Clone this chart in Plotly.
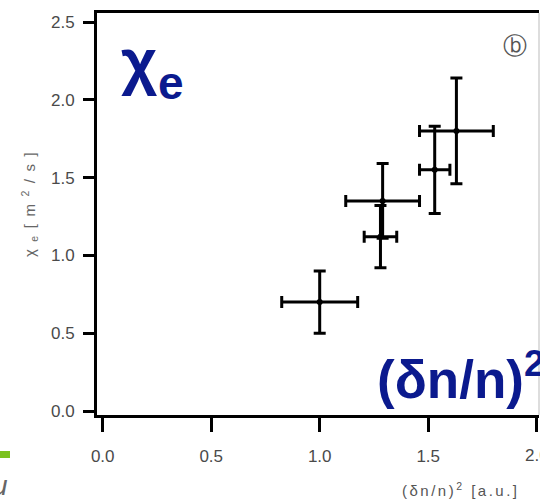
import plotly.graph_objects as go

# data
x_vals = [1.00, 1.29, 1.28, 1.53, 1.63]
y_vals = [0.70, 1.35, 1.12, 1.55, 1.80]
x_err = [0.175, 0.17, 0.075, 0.07, 0.17]
y_err = [0.20, 0.24, 0.20, 0.28, 0.34]

x_ticks = [0.0, 0.5, 1.0, 1.5, 2.0]
x_ticktext = ["0.0", "0.5", "1.0", "1.5", ""]
y_ticks = [0.0, 0.5, 1.0, 1.5, 2.0, 2.5]
y_ticktext = ["0.0", "0.5", "1.0", "1.5", "2.0", "2.5"]

W, H = 540, 499
ML, MR, MT, MB = 97, 1, 13, 84
PW, PH = W - ML - MR, H - MT - MB

def px(xp):
    return (xp - ML) / PW

def py(yp):
    return (H - MB - yp) / PH

fig = go.Figure()
fig.add_trace(go.Scatter(
    x=x_vals, y=y_vals, mode="markers",
    marker=dict(color="black", size=6),
    error_x=dict(type="data", array=x_err, color="black", thickness=3, width=6),
    error_y=dict(type="data", array=y_err, color="black", thickness=3, width=6),
    showlegend=False,
))

FONT = "Liberation Sans, Arial, sans-serif"
tick_font = dict(family=FONT, size=17, color="#4a4a4a")
navy = "#0B1A8E"
EN = "\u2002"
SIX = "\u2006"

ytitle = EN.join(["χ", "<sub>e</sub>", "[", "m", "<sup>2</sup>", "/", "s", "]"])
xtitle = SIX.join(["(", "δ", "n", "/", "n", ")", "<sup>2</sup>", " ", "[", "a", ".", "u", ".", "]"])

fig.update_layout(
    width=W, height=H,
    margin=dict(l=ML, r=MR, t=MT, b=MB, pad=0),
    paper_bgcolor="white", plot_bgcolor="white",
    xaxis=dict(range=[-0.0263, 2.0106], tickvals=x_ticks, ticktext=x_ticktext,
               showgrid=False, zeroline=False, showline=True, linecolor="black", linewidth=3,
               mirror=True, ticks="outside", ticklen=14, tickwidth=3, tickcolor="black",
               tickfont=tick_font, ticklabelstandoff=10),
    yaxis=dict(range=[-0.0257, 2.558], tickvals=y_ticks, ticktext=y_ticktext,
               showgrid=False, zeroline=False, showline=True, linecolor="black", linewidth=3,
               ticks="outside", ticklen=11, tickwidth=3, tickcolor="black",
               tickfont=tick_font, ticklabelstandoff=5),
    shapes=[
        dict(type="line", xref="paper", yref="paper", x0=1, x1=1, y0=0, y1=1,
             line=dict(color="#bbbbbb", width=1)),
        dict(type="rect", xref="paper", yref="paper", x0=px(0), x1=px(10), y0=py(458), y1=py(451),
             line=dict(width=0), fillcolor="#7CC21F"),
    ],
    annotations=[
        dict(text="<b>χ</b>", xref="paper", yref="paper", x=px(119), y=py(61), xanchor="left",
             yanchor="middle", showarrow=False,
             font=dict(family=FONT, size=63, color=navy)),
        dict(text="<b>e</b>", xref="paper", yref="paper", x=px(156), y=py(83), xanchor="left",
             yanchor="middle", showarrow=False,
             font=dict(family=FONT, size=46, color=navy)),
        dict(text="<b>(δn/n)<sup>2</sup></b>", xref="paper", yref="paper", x=px(375), y=py(375),
             xanchor="left", yanchor="middle", showarrow=False,
             font=dict(family=FONT, size=53, color=navy)),
        dict(text="ⓑ", xref="paper", yref="paper", x=px(515), y=py(46), xanchor="center",
             yanchor="middle", showarrow=False,
             font=dict(family="DejaVu Sans, sans-serif", size=24, color="#555555")),
        dict(text="2.0", xref="x", yref="paper", x=2.0, y=py(455), xanchor="center",
             yanchor="middle", showarrow=False, font=tick_font),
        dict(text=ytitle, xref="paper", yref="paper", x=px(29), y=py(205),
             xanchor="center", yanchor="middle", textangle=-90, showarrow=False,
             font=dict(family=FONT, size=15, color="#666666")),
        dict(text=xtitle, xref="paper", yref="paper", x=px(459), y=py(489),
             xanchor="center", yanchor="middle", showarrow=False,
             font=dict(family=FONT, size=15, color="#555555")),
        dict(text="<i>u</i>", xref="paper", yref="paper", x=px(10), y=py(485),
             xanchor="right", yanchor="middle", showarrow=False,
             font=dict(family=FONT, size=28, color="#666666")),
    ],
)

fig.write_html("out.html")
